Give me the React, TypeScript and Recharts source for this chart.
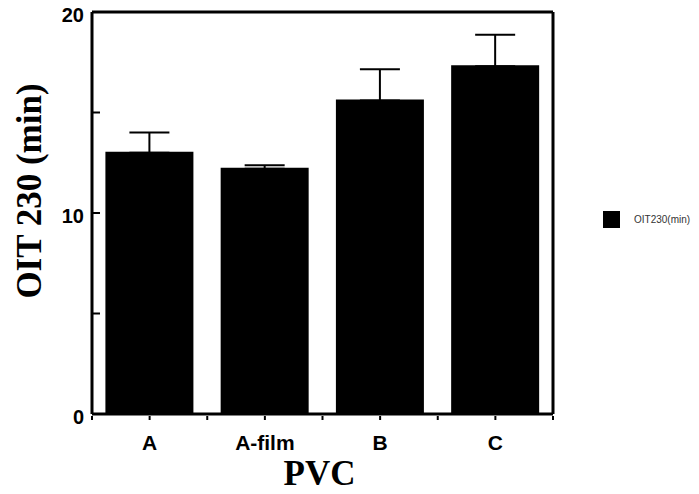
import { BarChart, Bar, XAxis, YAxis, ErrorBar, ReferenceLine, Legend } from "recharts";

const categories = ["A", "A-film", "B", "C"];
const oitValues = [13.0, 12.2, 15.6, 17.3];
const oitErrors = [1.0, 0.18, 1.55, 1.57];
const yTicks = [0, 5, 10, 15, 20];

const data = categories.map((name, i) => ({
  name,
  oit: oitValues[i],
  err: [0, oitErrors[i]],
}));

const W = 699;
const H = 494;
const LEFT = 92;
const RIGHT_W = 146;
const TOP = 12;
const XAXIS_H = 80;
const PLOT_R = W - RIGHT_W;
const PLOT_B = H - XAXIS_H;
const HALF_BAND = (PLOT_R - LEFT) / categories.length / 2;

const sans = "'Liberation Sans', Arial, sans-serif";
const serif = "'Liberation Serif', 'Times New Roman', serif";

function LeftTick(props: any) {
  const { y, payload } = props;
  const v = payload.value;
  return (
    <g>
      {v > 0 && v < 20 && <line x1={LEFT} x2={LEFT + 8} y1={y} y2={y} stroke="#000" strokeWidth={2} />}
      {v % 10 === 0 && (
        <text x={LEFT - 8} y={y} dy={10} textAnchor="end" fontFamily={sans} fontWeight="bold" fontSize={20} fill="#000">
          {v}
        </text>
      )}
    </g>
  );
}

function RightTick(props: any) {
  const { y, payload } = props;
  const v = payload.value;
  if (v <= 0 || v >= 20) return <g />;
  return <line x1={PLOT_R - 10} x2={PLOT_R} y1={y} y2={y} stroke="#000" strokeWidth={2} />;
}

function CatTick(props: any) {
  const { x, payload, index } = props;
  const last = index === categories.length - 1;
  return (
    <g>
      <line x1={x} x2={x} y1={PLOT_B + 2} y2={PLOT_B + 6} stroke="#000" strokeWidth={2} />
      <line x1={x - HALF_BAND} x2={x - HALF_BAND} y1={PLOT_B + 2} y2={PLOT_B + 6} stroke="#000" strokeWidth={2} />
      {last && <line x1={x + HALF_BAND} x2={x + HALF_BAND} y1={PLOT_B + 2} y2={PLOT_B + 6} stroke="#000" strokeWidth={2} />}
      <text x={x} y={PLOT_B + 36} textAnchor="middle" fontFamily={sans} fontWeight="bold" fontSize={21} fill="#000">
        {payload.value}
      </text>
    </g>
  );
}

function LegendBox() {
  return (
    <div style={{ display: "flex", alignItems: "center" }}>
      <div style={{ width: 17, height: 17, background: "#000" }} />
      <span style={{ marginLeft: 14, fontFamily: sans, fontSize: 10, color: "#333" }}>OIT230(min)</span>
    </div>
  );
}

export default function App() {
  return (
    <div style={{ position: "absolute", left: 0, top: 0, background: "#fff" }}>
      <BarChart width={W} height={H} data={data} margin={{ top: TOP, right: 0, left: 0, bottom: 0 }} barCategoryGap="12.5%">
        <XAxis
          dataKey="name"
          height={XAXIS_H}
          axisLine={{ stroke: "#000", strokeWidth: 3 }}
          tickLine={false}
          tick={<CatTick />}
          interval={0}
          label={() => (
            <text x={(LEFT + PLOT_R) / 2 - 3} y={H - 9} textAnchor="middle" fontFamily={serif} fontWeight="bold" fontSize={35} fill="#000">
              PVC
            </text>
          )}
        />
        <YAxis
          yAxisId="left"
          width={LEFT}
          domain={[0, 20]}
          ticks={yTicks}
          axisLine={{ stroke: "#000", strokeWidth: 3 }}
          tickLine={false}
          tick={<LeftTick />}
          label={() => (
            <text
              x={29}
              y={191}
              transform="rotate(-90 29 191)"
              textAnchor="middle"
              dominantBaseline="central"
              fontFamily={serif}
              fontWeight="bold"
              fontSize={35}
              fill="#000"
            >
              OIT 230 (min)
            </text>
          )}
        />
        <YAxis
          yAxisId="right"
          orientation="right"
          width={RIGHT_W}
          domain={[0, 20]}
          ticks={yTicks}
          axisLine={{ stroke: "#000", strokeWidth: 3 }}
          tickLine={false}
          tick={<RightTick />}
        />
        <ReferenceLine yAxisId="left" y={20} stroke="#000" strokeWidth={3} />
        <Legend
          layout="vertical"
          align="center"
          verticalAlign="middle"
          content={<LegendBox />}
          wrapperStyle={{ position: "absolute", left: 603, top: 211, width: 96 }}
        />
        <Bar yAxisId="left" dataKey="oit" name="OIT230(min)" fill="#000" stroke="#000" strokeWidth={2} isAnimationActive={false}>
          <ErrorBar dataKey="err" direction="y" width={20} stroke="#000" strokeWidth={2} />
        </Bar>
      </BarChart>
    </div>
  );
}
